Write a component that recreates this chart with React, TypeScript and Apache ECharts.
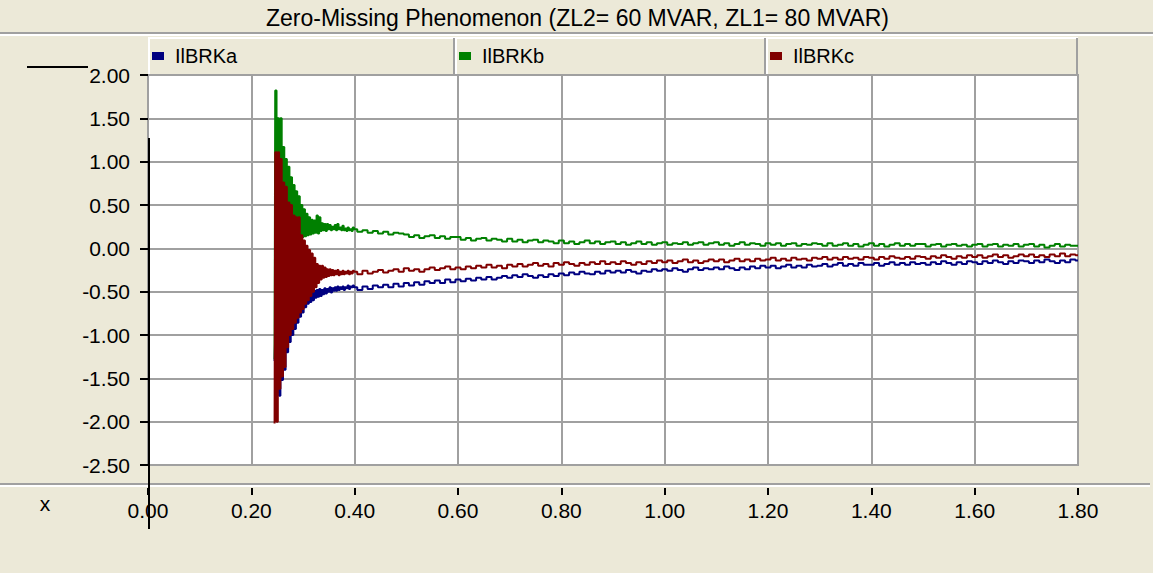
import React, { useEffect, useRef } from "react";
import * as echarts from "echarts";

const TITLE = "Zero-Missing Phenomenon (ZL2= 60 MVAR, ZL1= 80 MVAR)";
const SERIES_NAMES = ["IlBRKa", "IlBRKb", "IlBRKc"];
const SERIES_COLORS = ["#000080", "#008000", "#800000"];
const X_TICK_LABEL_NAME = "x";

// Transient window: samples every FAST_STEP from FAST_START, two values (low then high) per sample
const FAST_START = 0.245;
const FAST_STEP = 0.005;

const aFastLow = [-1.30, -1.66, -1.70, -1.52, -1.40, -1.20, -1.08, -1.00, -0.93, -0.86, -0.79, -0.74, -0.68, -0.64, -0.62, -0.60, -0.57, -0.56, -0.55, -0.53, -0.52, -0.50, -0.51, -0.49, -0.49, -0.48, -0.47, -0.48, -0.46, -0.47, -0.45];
const aFastHigh = [-1.00, -0.20, -0.30, -0.35, -0.40, -0.42, -0.45, -0.47, -0.48, -0.50, -0.50, -0.52, -0.52, -0.53, -0.50, -0.49, -0.48, -0.47, -0.48, -0.46, -0.47, -0.45, -0.46, -0.45, -0.44, -0.45, -0.44, -0.45, -0.43, -0.44, -0.43];

const bFastLow = [-1.28, 1.00, 0.95, 0.70, 0.65, 0.48, 0.45, 0.33, 0.30, 0.30, 0.13, 0.13, 0.14, 0.15, 0.16, 0.17, 0.18, 0.17, 0.20, 0.21, 0.20, 0.22, 0.21, 0.22, 0.21, 0.22, 0.21, 0.21, 0.20, 0.21, 0.20];
const bFastHigh = [1.82, 1.50, 1.50, 1.17, 1.03, 0.94, 0.82, 0.73, 0.66, 0.60, 0.50, 0.45, 0.40, 0.36, 0.33, 0.32, 0.38, 0.36, 0.29, 0.28, 0.28, 0.27, 0.25, 0.27, 0.28, 0.24, 0.26, 0.23, 0.24, 0.22, 0.24];

const cFastLow = [-2.02, -2.00, -1.62, -1.48, -1.37, -1.14, -1.00, -0.93, -0.86, -0.80, -0.74, -0.70, -0.64, -0.60, -0.55, -0.50, -0.45, -0.40, -0.36, -0.34, -0.33, -0.32, -0.31, -0.31, -0.30, -0.31, -0.30, -0.30, -0.29, -0.30, -0.29];
const cFastHigh = [1.11, 1.11, 1.03, 0.76, 0.71, 0.53, 0.50, 0.38, 0.36, 0.36, 0.15, 0.09, 0.03, -0.02, -0.06, -0.11, -0.18, -0.20, -0.20, -0.22, -0.24, -0.24, -0.25, -0.26, -0.25, -0.27, -0.26, -0.27, -0.26, -0.27, -0.26];

// Settled part: samples every TAIL_STEP from TAIL_START to 1.80
const TAIL_START = 0.4;
const TAIL_STEP = 0.01;

const aTail = [
  -0.45, -0.48, -0.44, -0.47, -0.43, -0.45, -0.42, -0.45, -0.41, -0.44,
  -0.40, -0.43, -0.39, -0.42, -0.38, -0.40, -0.37, -0.40, -0.36, -0.39,
  -0.36, -0.38, -0.35, -0.37, -0.34, -0.36, -0.33, -0.36, -0.34, -0.32,
  -0.34, -0.31, -0.33, -0.30, -0.32, -0.34, -0.31, -0.33, -0.30, -0.32,
  -0.29, -0.31, -0.28, -0.30, -0.27, -0.29, -0.30, -0.27, -0.29, -0.26,
  -0.28, -0.26, -0.28, -0.25, -0.27, -0.29, -0.26, -0.27, -0.24, -0.26,
  -0.24, -0.26, -0.23, -0.25, -0.27, -0.24, -0.22, -0.25, -0.23, -0.24,
  -0.22, -0.24, -0.21, -0.23, -0.25, -0.22, -0.24, -0.21, -0.23, -0.20,
  -0.22, -0.20, -0.23, -0.21, -0.19, -0.22, -0.20, -0.22, -0.19, -0.21,
  -0.20, -0.18, -0.21, -0.19, -0.17, -0.20, -0.18, -0.20, -0.17, -0.19,
  -0.19, -0.17, -0.20, -0.18, -0.16, -0.19, -0.17, -0.19, -0.16, -0.18,
  -0.17, -0.19, -0.16, -0.18, -0.15, -0.17, -0.19, -0.16, -0.18, -0.15,
  -0.16, -0.18, -0.15, -0.17, -0.14, -0.16, -0.18, -0.15, -0.17, -0.14,
  -0.15, -0.17, -0.14, -0.16, -0.13, -0.15, -0.17, -0.14, -0.16, -0.13,
  -0.14,
];

const bTail = [
  0.22, 0.19, 0.21, 0.18, 0.20, 0.17, 0.19, 0.16, 0.18, 0.17,
  0.16, 0.13, 0.15, 0.12, 0.14, 0.15, 0.12, 0.14, 0.11, 0.13,
  0.13, 0.10, 0.12, 0.09, 0.11, 0.12, 0.09, 0.11, 0.10, 0.08,
  0.11, 0.08, 0.10, 0.07, 0.09, 0.10, 0.07, 0.09, 0.08, 0.06,
  0.09, 0.06, 0.08, 0.05, 0.07, 0.09, 0.06, 0.08, 0.05, 0.07,
  0.08, 0.05, 0.07, 0.04, 0.06, 0.08, 0.05, 0.07, 0.04, 0.06,
  0.07, 0.04, 0.06, 0.05, 0.07, 0.04, 0.06, 0.07, 0.04, 0.06,
  0.07, 0.04, 0.06, 0.03, 0.05, 0.07, 0.04, 0.06, 0.05, 0.03,
  0.06, 0.04, 0.06, 0.03, 0.05, 0.06, 0.03, 0.05, 0.04, 0.06,
  0.05, 0.03, 0.06, 0.03, 0.04, 0.06, 0.03, 0.05, 0.02, 0.04,
  0.06, 0.03, 0.05, 0.02, 0.04, 0.06, 0.03, 0.05, 0.03, 0.05,
  0.05, 0.02, 0.04, 0.05, 0.02, 0.04, 0.05, 0.03, 0.04, 0.02,
  0.04, 0.05, 0.02, 0.04, 0.05, 0.02, 0.04, 0.03, 0.05, 0.02,
  0.04, 0.05, 0.02, 0.04, 0.01, 0.03, 0.05, 0.02, 0.04, 0.03,
  0.03,
];

const cTail = [
  -0.27, -0.30, -0.26, -0.29, -0.27, -0.25, -0.28, -0.26, -0.24, -0.27,
  -0.23, -0.26, -0.24, -0.27, -0.24, -0.22, -0.25, -0.23, -0.21, -0.24,
  -0.22, -0.24, -0.21, -0.23, -0.20, -0.22, -0.19, -0.22, -0.20, -0.23,
  -0.19, -0.21, -0.18, -0.21, -0.19, -0.17, -0.20, -0.18, -0.21, -0.17,
  -0.19, -0.16, -0.18, -0.20, -0.17, -0.19, -0.16, -0.18, -0.15, -0.18,
  -0.16, -0.18, -0.15, -0.17, -0.19, -0.16, -0.18, -0.15, -0.17, -0.14,
  -0.16, -0.14, -0.17, -0.15, -0.13, -0.16, -0.14, -0.17, -0.15, -0.13,
  -0.15, -0.13, -0.16, -0.14, -0.12, -0.15, -0.13, -0.15, -0.12, -0.14,
  -0.13, -0.11, -0.14, -0.12, -0.14, -0.11, -0.13, -0.12, -0.14, -0.11,
  -0.12, -0.10, -0.13, -0.11, -0.13, -0.10, -0.12, -0.11, -0.13, -0.10,
  -0.11, -0.13, -0.10, -0.12, -0.09, -0.11, -0.12, -0.10, -0.12, -0.09,
  -0.10, -0.12, -0.09, -0.11, -0.08, -0.10, -0.12, -0.09, -0.11, -0.08,
  -0.10, -0.08, -0.11, -0.09, -0.07, -0.10, -0.08, -0.11, -0.09, -0.07,
  -0.09, -0.07, -0.10, -0.08, -0.10, -0.07, -0.09, -0.06, -0.09, -0.07,
  -0.08,
];

const X_MIN = 0;
const X_MAX = 1.8;
const X_STEP = 0.2;
const Y_MIN = -2.5;
const Y_MAX = 2.0;
const Y_STEP = 0.5;

const FONT = "'Liberation Sans', Arial, sans-serif";
const BG = "#ECE9D8";
const GRID_GRAY = "#A0A0A0";

function r4(v: number) {
  return Math.round(v * 10000) / 10000;
}

function buildSeries(low: number[], high: number[], tail: number[]) {
  const pts: [number, number][] = [];
  for (let k = 0; k < low.length; k++) {
    const t = FAST_START + k * FAST_STEP;
    pts.push([r4(t), low[k]]);
    pts.push([r4(t + FAST_STEP / 2), high[k]]);
  }
  tail.forEach((v, i) => pts.push([r4(TAIL_START + i * TAIL_STEP), v]));
  return pts;
}

const seriesData = [
  buildSeries(aFastLow, aFastHigh, aTail),
  buildSeries(bFastLow, bFastHigh, bTail),
  buildSeries(cFastLow, cFastHigh, cTail),
];

const LEGEND_BOXES = [
  [148, 455],
  [455, 766],
  [766, 1078],
];

function raisedBox(x1: number, y1: number, x2: number, y2: number) {
  return [
    { type: "rect", shape: { x: x1, y: y1, width: x2 - x1, height: y2 - y1 }, style: { fill: BG }, z: 0 },
    { type: "polyline", shape: { points: [[x1 + 1, y2], [x1 + 1, y1 + 1], [x2, y1 + 1]] }, style: { stroke: "#FFFFFF", lineWidth: 2, fill: null }, z: 1 },
    { type: "polyline", shape: { points: [[x2 - 1, y1 + 1], [x2 - 1, y2]] }, style: { stroke: GRID_GRAY, lineWidth: 2, fill: null }, z: 1 },
  ];
}

export default function App() {
  const ref = useRef<HTMLDivElement>(null);

  useEffect(() => {
    if (!ref.current) return;
    const chart = echarts.init(ref.current, undefined, { renderer: "svg" });

    const graphics: any[] = [
      { type: "line", shape: { x1: 0, y1: 33, x2: 1153, y2: 33 }, style: { stroke: GRID_GRAY, lineWidth: 2 }, z: 1 },
      { type: "line", shape: { x1: 0, y1: 35, x2: 1153, y2: 35 }, style: { stroke: "#FFFFFF", lineWidth: 2 }, z: 1 },
      { type: "line", shape: { x1: 0, y1: 484, x2: 1150, y2: 484 }, style: { stroke: GRID_GRAY, lineWidth: 2 }, z: 1 },
      { type: "line", shape: { x1: 0, y1: 486, x2: 1150, y2: 486 }, style: { stroke: "#FFFFFF", lineWidth: 2 }, z: 1 },
      {
        type: "text",
        x: 45,
        y: 503,
        style: { text: X_TICK_LABEL_NAME, fill: "#000", font: `21px ${FONT}`, textAlign: "center", textVerticalAlign: "middle" },
        z: 5,
      },
      { type: "line", shape: { x1: 27, y1: 67, x2: 88, y2: 67 }, style: { stroke: "#000", lineWidth: 2 }, z: 100 },
      { type: "line", shape: { x1: 149, y1: 138, x2: 149, y2: 529 }, style: { stroke: "#000", lineWidth: 2 }, z: 100 },
    ];
    LEGEND_BOXES.forEach(([a, b]) => graphics.push(...raisedBox(a, 37, b, 74)));

    const option: any = {
      animation: false,
      backgroundColor: BG,
      title: {
        text: TITLE,
        left: 266,
        top: 6,
        padding: 0,
        textStyle: { fontSize: 23, fontWeight: "normal", color: "#000", fontFamily: FONT },
      },
      legend: SERIES_NAMES.map((n, i) => ({
        data: [n],
        left: LEGEND_BOXES[i][0] + 4,
        top: 46,
        padding: 0,
        icon: "rect",
        itemWidth: 12,
        itemHeight: 8,
        selectedMode: false,
        textStyle: { fontSize: 20, color: "#000", fontFamily: FONT, padding: [0, 0, 0, 6] },
        z: 10,
      })),
      grid: {
        left: 148,
        top: 75,
        width: 930,
        height: 390,
        show: true,
        backgroundColor: "#FFFFFF",
        borderColor: GRID_GRAY,
        borderWidth: 2,
      },
      xAxis: {
        type: "value",
        min: X_MIN,
        max: X_MAX,
        interval: X_STEP,
        position: "bottom",
        offset: 23,
        axisLine: { show: false, onZero: false },
        axisTick: { show: true, length: 7, lineStyle: { color: "#000", width: 2 } },
        axisLabel: {
          margin: 12,
          fontSize: 21,
          color: "#000",
          fontFamily: FONT,
          showMinLabel: true,
          showMaxLabel: true,
          formatter: (v: number) => v.toFixed(2),
        },
        splitLine: { show: true, lineStyle: { color: GRID_GRAY, width: 2 } },
      },
      yAxis: {
        type: "value",
        min: Y_MIN,
        max: Y_MAX,
        interval: Y_STEP,
        axisLine: { show: false, onZero: false },
        axisTick: { show: true, length: 8, lineStyle: { color: "#000", width: 2 } },
        axisLabel: {
          margin: 18,
          fontSize: 21,
          color: "#000",
          fontFamily: FONT,
          formatter: (v: number) => v.toFixed(2),
        },
        splitLine: { show: true, lineStyle: { color: GRID_GRAY, width: 2 } },
      },
      graphic: graphics,
      series: SERIES_NAMES.map((n, i) => ({
        name: n,
        type: "line",
        step: "middle",
        data: seriesData[i],
        showSymbol: false,
        symbol: "rect",
        color: SERIES_COLORS[i],
        lineStyle: { color: SERIES_COLORS[i], width: 2 },
        z: 2 + i,
      })),
    };

    chart.setOption(option);
    return () => chart.dispose();
  }, []);

  return (
    <div
      ref={ref}
      style={{ position: "absolute", left: 0, top: 0, width: 1153, height: 573, background: BG }}
    />
  );
}
